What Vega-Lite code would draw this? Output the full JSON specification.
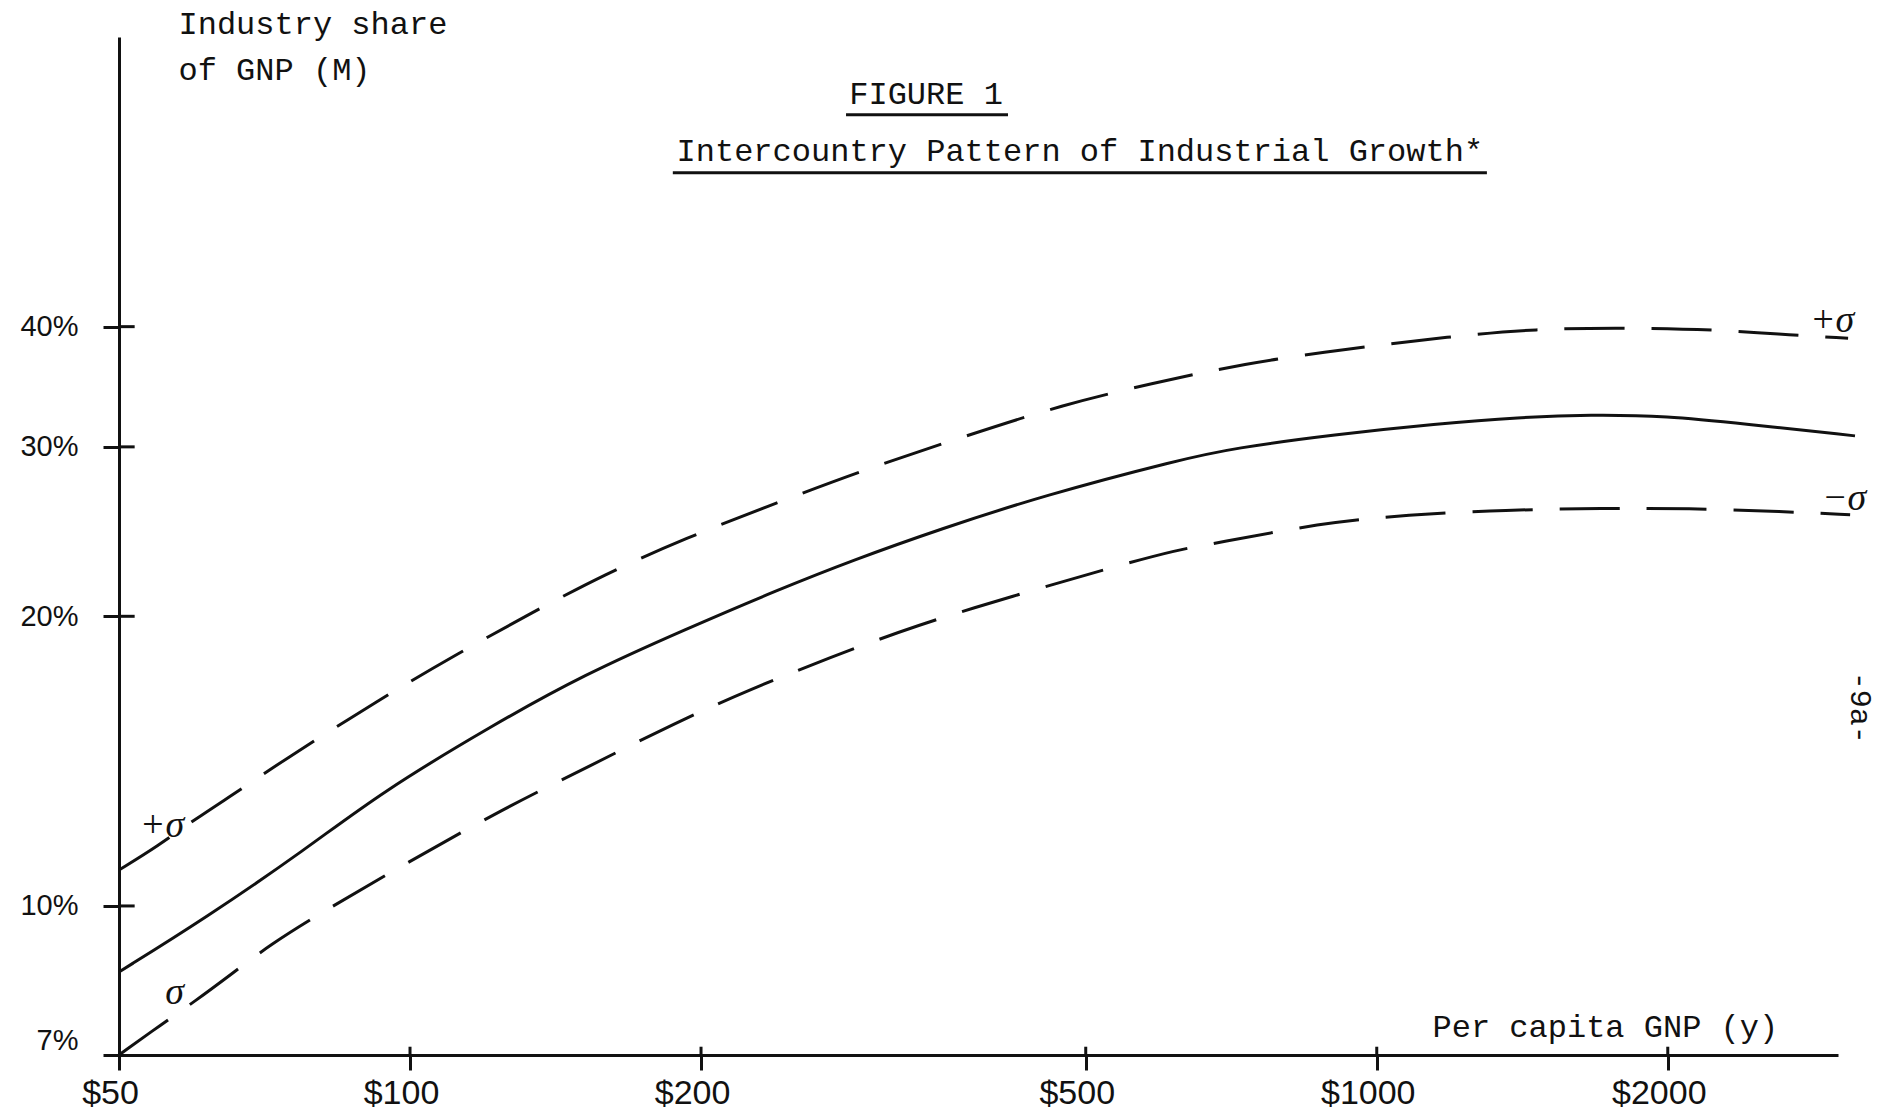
{
  "$schema": "https://vega.github.io/schema/vega-lite/v6.json",
  "width": 1719,
  "height": 1018,
  "autosize": {"type": "none"},
  "padding": {"left": 119, "top": 37, "right": 51, "bottom": 60},
  "background": "white",
  "config": {"view": {"stroke": null}},
  "datasets": {
    "curves": [
      {"series": "mean", "gnp": 50, "share": 8.54},
      {"series": "mean", "gnp": 61.2, "share": 9.69},
      {"series": "mean", "gnp": 78.1, "share": 11.46},
      {"series": "mean", "gnp": 93.1, "share": 13.1},
      {"series": "mean", "gnp": 121.6, "share": 15.4},
      {"series": "mean", "gnp": 151.4, "share": 17.4},
      {"series": "mean", "gnp": 193, "share": 19.4},
      {"series": "mean", "gnp": 240, "share": 21.3},
      {"series": "mean", "gnp": 288, "share": 22.9},
      {"series": "mean", "gnp": 354, "share": 24.65},
      {"series": "mean", "gnp": 452, "share": 26.7},
      {"series": "mean", "gnp": 626, "share": 29.1},
      {"series": "mean", "gnp": 710, "share": 29.9},
      {"series": "mean", "gnp": 905, "share": 30.9},
      {"series": "mean", "gnp": 1154, "share": 31.7},
      {"series": "mean", "gnp": 1404, "share": 32.2},
      {"series": "mean", "gnp": 1662, "share": 32.4},
      {"series": "mean", "gnp": 1997, "share": 32.3},
      {"series": "mean", "gnp": 2393, "share": 31.7},
      {"series": "mean", "gnp": 3124, "share": 30.8},
      {"series": "plus", "gnp": 50, "share": 10.9},
      {"series": "plus", "gnp": 54.9, "share": 11.55},
      {"series": "plus", "gnp": 59.5, "share": 12.25},
      {"series": "plus", "gnp": 67.5, "share": 13.3},
      {"series": "plus", "gnp": 73.4, "share": 14.1},
      {"series": "plus", "gnp": 93.1, "share": 16.4},
      {"series": "plus", "gnp": 111, "share": 18.2},
      {"series": "plus", "gnp": 134, "share": 20.2},
      {"series": "plus", "gnp": 158.7, "share": 22.1},
      {"series": "plus", "gnp": 192.5, "share": 24.1},
      {"series": "plus", "gnp": 239.7, "share": 26.25},
      {"series": "plus", "gnp": 298, "share": 28.5},
      {"series": "plus", "gnp": 376, "share": 30.8},
      {"series": "plus", "gnp": 474, "share": 33.2},
      {"series": "plus", "gnp": 584, "share": 34.9},
      {"series": "plus", "gnp": 727, "share": 36.6},
      {"series": "plus", "gnp": 934, "share": 37.95},
      {"series": "plus", "gnp": 1191, "share": 39.05},
      {"series": "plus", "gnp": 1454, "share": 39.8},
      {"series": "plus", "gnp": 1833, "share": 39.9},
      {"series": "plus", "gnp": 2254, "share": 39.7},
      {"series": "plus", "gnp": 2589, "share": 39.3},
      {"series": "plus", "gnp": 3073, "share": 38.9},
      {"series": "minus", "gnp": 50, "share": 7.0},
      {"series": "minus", "gnp": 55.4, "share": 7.54},
      {"series": "minus", "gnp": 59.8, "share": 7.95},
      {"series": "minus", "gnp": 65.4, "share": 8.5},
      {"series": "minus", "gnp": 71.6, "share": 9.11},
      {"series": "minus", "gnp": 81.5, "share": 9.88},
      {"series": "minus", "gnp": 99.5, "share": 11.1},
      {"series": "minus", "gnp": 124.5, "share": 12.6},
      {"series": "minus", "gnp": 154, "share": 14.0},
      {"series": "minus", "gnp": 188, "share": 15.5},
      {"series": "minus", "gnp": 225, "share": 16.8},
      {"series": "minus", "gnp": 271, "share": 18.1},
      {"series": "minus", "gnp": 335, "share": 19.6},
      {"series": "minus", "gnp": 421, "share": 21.0},
      {"series": "minus", "gnp": 525, "share": 22.4},
      {"series": "minus", "gnp": 626, "share": 23.5},
      {"series": "minus", "gnp": 680, "share": 23.8},
      {"series": "minus", "gnp": 874, "share": 25.0},
      {"series": "minus", "gnp": 1075, "share": 25.5},
      {"series": "minus", "gnp": 1361, "share": 25.8},
      {"series": "minus", "gnp": 1714, "share": 25.9},
      {"series": "minus", "gnp": 2094, "share": 25.9},
      {"series": "minus", "gnp": 2638, "share": 25.7},
      {"series": "minus", "gnp": 3088, "share": 25.5}
    ]
  },
  "layer": [
    {
      "data": {"name": "curves"},
      "transform": [{"filter": "datum.series === 'mean'"}],
      "mark": {"type": "line", "interpolate": "basis", "stroke": "#111", "strokeWidth": 3, "clip": false},
      "encoding": {
        "x": {
          "field": "gnp", "type": "quantitative",
          "scale": {"type": "log", "domain": [50, 3000], "nice": false, "zero": false},
          "axis": {
            "values": [50, 100, 200, 500, 1000, 2000],
            "labelExpr": "'$' + datum.value",
            "title": "Per capita GNP (y)",
            "titleFont": "Liberation Mono", "titleFontSize": 32, "titleFontWeight": "normal", "titleColor": "#111",
            "titleX": 1313, "titleY": -19, "titleAlign": "left", "titleBaseline": "alphabetic", "titleAnchor": "start",
            "labelFont": "Liberation Sans", "labelFontSize": 34, "labelColor": "#111",
            "labelOffset": -9, "labelPadding": 6, "labelBaseline": "top", "labelFlush": false, "labelOverlap": false,
            "tickSize": 15, "tickWidth": 3, "tickColor": "#111",
            "domainWidth": 3, "domainColor": "#111", "grid": false
          }
        },
        "y": {
          "field": "share", "type": "quantitative",
          "scale": {"type": "log", "domain": [7, 80], "nice": false, "zero": false},
          "axis": {
            "values": [7, 10, 20, 30, 40],
            "labelExpr": "datum.value + '%'",
            "title": ["Industry share", "of GNP (M)"],
            "titleAngle": 0, "titleX": 59, "titleY": -4, "titleAlign": "left", "titleBaseline": "alphabetic",
            "titleLineHeight": 46, "titleAnchor": "start",
            "titleFont": "Liberation Mono", "titleFontSize": 32, "titleFontWeight": "normal", "titleColor": "#111",
            "labelFont": "Liberation Sans", "labelFontSize": 29, "labelColor": "#111", "labelPadding": 25,
            "labelBaseline": {"condition": {"test": "datum.value == 7", "value": "bottom"}, "value": "middle"},
            "labelFlush": false, "labelOverlap": false,
            "tickSize": 16, "tickWidth": 3, "tickColor": "#111",
            "domainWidth": 3, "domainColor": "#111", "grid": false
          }
        }
      }
    },
    {
      "data": {"name": "curves"},
      "transform": [{"filter": "datum.series === 'plus'"}],
      "mark": {"type": "line", "interpolate": "basis", "stroke": "#111", "strokeWidth": 3, "strokeDash": [60, 27], "clip": false},
      "encoding": {
        "x": {"field": "gnp", "type": "quantitative"},
        "y": {"field": "share", "type": "quantitative"}
      }
    },
    {
      "data": {"name": "curves"},
      "transform": [{"filter": "datum.series === 'minus'"}],
      "mark": {"type": "line", "interpolate": "basis", "stroke": "#111", "strokeWidth": 3, "strokeDash": [60, 27], "clip": false},
      "encoding": {
        "x": {"field": "gnp", "type": "quantitative"},
        "y": {"field": "share", "type": "quantitative"}
      }
    },
    {
      "data": {"values": [{"tick": 10}, {"tick": 20}, {"tick": 30}, {"tick": 40}]},
      "mark": {"type": "rule", "stroke": "#111", "strokeWidth": 3},
      "encoding": {
        "y": {"field": "tick", "type": "quantitative"},
        "x": {"datum": 50, "type": "quantitative"},
        "x2": {"datum": 51.9}
      }
    },
    {
      "data": {"values": [{"tick": 100}, {"tick": 200}, {"tick": 500}, {"tick": 1000}, {"tick": 2000}]},
      "mark": {"type": "rule", "stroke": "#111", "strokeWidth": 3},
      "encoding": {
        "x": {"field": "tick", "type": "quantitative"},
        "y": {"datum": 7, "type": "quantitative"},
        "y2": {"datum": 7.14}
      }
    },
    {
      "data": {"values": [{}]},
      "mark": {"type": "text", "text": "FIGURE 1", "font": "Liberation Mono", "fontSize": 32, "align": "center", "baseline": "alphabetic", "color": "#111"},
      "encoding": {"x": {"datum": 341.8, "type": "quantitative"}, "y": {"datum": 68.2, "type": "quantitative"}}
    },
    {
      "data": {"values": [{}]},
      "mark": {"type": "rule", "stroke": "#111", "strokeWidth": 3},
      "encoding": {"x": {"datum": 282.5, "type": "quantitative"}, "x2": {"datum": 415.5}, "y": {"datum": 66.4, "type": "quantitative"}}
    },
    {
      "data": {"values": [{}]},
      "mark": {"type": "text", "text": "Intercountry Pattern of Industrial Growth*", "font": "Liberation Mono", "fontSize": 32, "align": "center", "baseline": "alphabetic", "color": "#111"},
      "encoding": {"x": {"datum": 493, "type": "quantitative"}, "y": {"datum": 59.4, "type": "quantitative"}}
    },
    {
      "data": {"values": [{}]},
      "mark": {"type": "rule", "stroke": "#111", "strokeWidth": 3},
      "encoding": {"x": {"datum": 187, "type": "quantitative"}, "x2": {"datum": 1300}, "y": {"datum": 57.8, "type": "quantitative"}}
    },
    {
      "data": {"values": [{}]},
      "mark": {"type": "text", "text": "+σ", "font": "Liberation Serif", "fontStyle": "italic", "fontSize": 38, "align": "center", "baseline": "alphabetic", "color": "#111"},
      "encoding": {"x": {"datum": 2958, "type": "quantitative"}, "y": {"datum": 39.5, "type": "quantitative"}}
    },
    {
      "data": {"values": [{}]},
      "mark": {"type": "text", "text": "−σ", "font": "Liberation Serif", "fontStyle": "italic", "fontSize": 38, "align": "center", "baseline": "alphabetic", "color": "#111"},
      "encoding": {"x": {"datum": 3044, "type": "quantitative"}, "y": {"datum": 25.8, "type": "quantitative"}}
    },
    {
      "data": {"values": [{}]},
      "mark": {"type": "text", "text": "+σ", "font": "Liberation Serif", "fontStyle": "italic", "fontSize": 38, "align": "center", "baseline": "alphabetic", "color": "#111"},
      "encoding": {"x": {"datum": 55.4, "type": "quantitative"}, "y": {"datum": 11.8, "type": "quantitative"}}
    },
    {
      "data": {"values": [{}]},
      "mark": {"type": "text", "text": "σ", "font": "Liberation Serif", "fontStyle": "italic", "fontSize": 38, "align": "center", "baseline": "alphabetic", "color": "#111"},
      "encoding": {"x": {"datum": 57.1, "type": "quantitative"}, "y": {"datum": 7.9, "type": "quantitative"}}
    },
    {
      "data": {"values": [{}]},
      "mark": {"type": "text", "text": "-9a-", "font": "Liberation Mono", "fontSize": 30, "angle": 90, "align": "center", "baseline": "middle", "color": "#111"},
      "encoding": {"x": {"datum": 3162, "type": "quantitative"}, "y": {"datum": 16.07, "type": "quantitative"}}
    }
  ]
}
